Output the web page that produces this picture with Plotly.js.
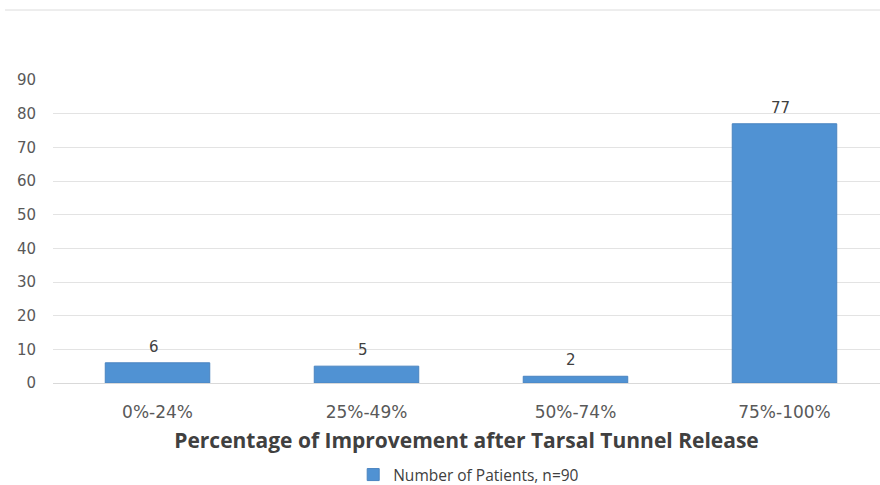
<!DOCTYPE html>
<html>
<head>
<meta charset="utf-8">
<script src="https://cdn.plot.ly/plotly-3.0.1.min.js"></script>
<style>html,body{margin:0;padding:0;background:#fff;}#chart{width:880px;height:485px;}</style>
</head>
<body>
<div id="chart"></div>
<script>
const categories = ["0%-24%", "25%-49%", "50%-74%", "75%-100%"];
const patients = [6, 5, 2, 77];
const seriesName = "Number of Patients, n=90";
const yTicks = [0, 10, 20, 30, 40, 50, 60, 70, 80, 90];
const xTitle = "Percentage of Improvement after Tarsal Tunnel Release";

const trace = {
  type: "bar",
  x: categories,
  y: patients,
  name: seriesName,
  width: 0.5,
  marker: {color: "#5092d3", line: {color: "#4a84c0", width: 1}},
  showlegend: true
};

const labelAnnotations = categories.map((c, i) => ({
  x: c, y: patients[i], xref: "x", yref: "y",
  text: String(patients[i]), showarrow: false,
  yanchor: "bottom", xanchor: "center", yshift: 5, xshift: -4,
  font: {family: "DejaVu Sans, sans-serif", size: 15, color: "#404040"}
}));

const layout = {
  width: 880, height: 485,
  margin: {l: 53, r: 0, t: 80, b: 102, autoexpand: false},
  paper_bgcolor: "#ffffff", plot_bgcolor: "#ffffff",
  xaxis: {
    type: "category",
    range: [-0.5, 3.457],
    showgrid: false, zeroline: false, showline: false,
    ticks: "", ticklabelstandoff: 17,
    tickfont: {family: "DejaVu Sans, sans-serif", size: 17, color: "#595959"},
    title: {text: xTitle, standoff: 12, font: {family: "Open Sans, sans-serif", size: 21, color: "#404040", weight: "bold"}}
  },
  yaxis: {
    range: [0, 90],
    tickvals: yTicks,
    showgrid: true, gridcolor: "#e3e3e3", gridwidth: 1,
    zeroline: true, zerolinecolor: "#d9d9d9", zerolinewidth: 1,
    showline: false, ticks: "", ticklabelstandoff: 16,
    tickfont: {family: "DejaVu Sans, sans-serif", size: 15, color: "#595959"}
  },
  legend: {
    orientation: "h", x: 0.363, xanchor: "left", y: -0.3036, yanchor: "middle",
    font: {family: "Open Sans, sans-serif", size: 15.5, color: "#404040"}
  },
  annotations: labelAnnotations,
  shapes: [{
    type: "line", xref: "paper", yref: "paper",
    x0: -0.058, x1: 1.0, y0: 1.231, y1: 1.231,
    line: {color: "#dcdcdc", width: 1}
  }],
  showlegend: true
};

Plotly.newPlot("chart", [trace], layout, {displayModeBar: false, staticPlot: true});
</script>
</body>
</html>
